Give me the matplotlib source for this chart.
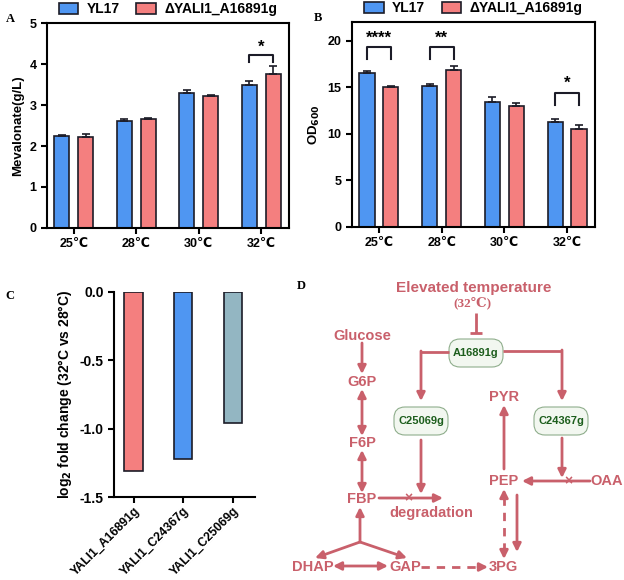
import matplotlib.pyplot as plt
from matplotlib.patches import FancyBboxPatch
import numpy as np

# ---- data ----
temps = ['25℃', '28℃', '30℃', '32℃']
strains = ['YL17', 'ΔYALI1_A16891g']
mva_yl17 = [2.25, 2.62, 3.30, 3.50]
mva_yl17_err = [0.03, 0.04, 0.06, 0.10]
mva_del = [2.22, 2.65, 3.22, 3.77]
mva_del_err = [0.08, 0.04, 0.03, 0.18]
od_yl17 = [16.55, 15.10, 13.45, 11.25]
od_yl17_err = [0.15, 0.25, 0.50, 0.35]
od_del = [15.05, 16.85, 13.00, 10.55]
od_del_err = [0.10, 0.40, 0.25, 0.35]
genes = ['YALI1_A16891g', 'YALI1_C24367g', 'YALI1_C25069g']
log2fc = [-1.31, -1.22, -0.96]

# significance marks: group index, label, bracket base height
sig_A = [(3, '*', 4.05)]
sig_B = [(0, '****', 18.0), (1, '**', 18.0), (3, '*', 13.1)]

BLUE = '#4f96f2'
RED = '#f47f7f'
TEAL = '#93b6c2'
EDGE = '#1c1c28'
PINK = '#c9606b'
FONT = ['Liberation Sans', 'DejaVu Sans']

plt.rcParams['font.family'] = FONT
plt.rcParams['font.weight'] = 'bold'
plt.rcParams['axes.linewidth'] = 1.5
plt.rcParams['xtick.major.width'] = 1.5
plt.rcParams['ytick.major.width'] = 1.5
plt.rcParams['xtick.major.size'] = 4
plt.rcParams['ytick.major.size'] = 4

fig = plt.figure(figsize=(6.24, 5.8), dpi=100)


def grouped(ax, a, a_err, b, b_err, sig, ylim, yticks, ylabel, bh, soff):
    x = np.arange(len(temps))
    w = 0.24
    ax.bar(x - 0.19, a, w, color=BLUE, edgecolor=EDGE, lw=1.2, label=strains[0],
           yerr=[np.zeros(len(a)), a_err], capsize=3,
           error_kw=dict(ecolor=EDGE, elinewidth=1.2, capthick=1.2))
    ax.bar(x + 0.19, b, w, color=RED, edgecolor=EDGE, lw=1.2, label=strains[1],
           yerr=[np.zeros(len(b)), b_err], capsize=3,
           error_kw=dict(ecolor=EDGE, elinewidth=1.2, capthick=1.2))
    for i, s, y in sig:
        ax.plot([i - 0.19, i - 0.19, i + 0.19, i + 0.19], [y, y + bh, y + bh, y],
                color=EDGE, lw=1.5)
        ax.text(i, y + bh + soff, s, ha='center', va='bottom', fontsize=12,
                fontweight='bold')
    ax.set_xlim(-0.43, 3.44)
    ax.set_ylim(*ylim)
    ax.set_yticks(yticks)
    ax.set_xticks(x)
    ax.set_xticklabels(temps, fontsize=9)
    ax.tick_params(axis='y', labelsize=9)
    ax.set_ylabel(ylabel, fontsize=9.5, fontweight='bold')
    ax.legend(loc='lower center', bbox_to_anchor=(0.5, 1.0), ncol=2, frameon=False,
              prop=dict(size=10, weight='bold'), handlelength=1.4, handleheight=0.8,
              columnspacing=1.2, handletextpad=0.6, borderaxespad=0.1)


axA = fig.add_axes([0.075, 0.607, 0.388, 0.353])
grouped(axA, mva_yl17, mva_yl17_err, mva_del, mva_del_err, sig_A, (0, 5),
        range(0, 6), 'Mevalonate(g/L)', 0.17, 0.0)

axB = fig.add_axes([0.564, 0.609, 0.389, 0.353])
grouped(axB, od_yl17, od_yl17_err, od_del, od_del_err, sig_B, (0, 22),
        range(0, 21, 5), r'OD$_{\mathbf{600}}$', 1.3, 0.2)

# ---- panel C ----
axC = fig.add_axes([0.183, 0.143, 0.226, 0.354])
xc = np.arange(len(genes))
axC.bar(xc, log2fc, 0.37, color=[RED, BLUE, TEAL], edgecolor=EDGE, lw=1.2)
axC.set_xlim(-0.39, 2.45)
axC.set_ylim(-1.5, 0)
axC.set_yticks([0.0, -0.5, -1.0, -1.5])
axC.set_yticklabels(['0.0', '-0.5', '-1.0', '-1.5'], fontsize=10)
axC.set_xticks(xc)
axC.set_xticklabels(genes, rotation=45, ha='right', rotation_mode='anchor', fontsize=8.8)
axC.tick_params(axis='x', pad=2)
axC.spines['top'].set_visible(False)
axC.spines['right'].set_visible(False)
axC.set_ylabel(r'log$_\mathbf{2}$ fold change (32°C vs 28°C)', fontsize=10, fontweight='bold')

# ---- panel D: pathway diagram (pixel coordinates) ----
axD = fig.add_axes([290 / 624, 0, 334 / 624, 305 / 580])
axD.set_xlim(290, 624)
axD.set_ylim(580, 275)
axD.axis('off')


def arrow(p0, p1, style='-|>'):
    axD.annotate('', xy=p1, xytext=p0,
                 arrowprops=dict(arrowstyle=style, color=PINK, lw=2,
                                 shrinkA=0, shrinkB=0, mutation_scale=12))


def seg(xs, ys, ls='-'):
    axD.plot(xs, ys, color=PINK, lw=2, ls=ls, solid_capstyle='butt', dashes=(3, 2.5) if ls == '--' else (None, None))


def dashed_arrow(p0, p1, both=False):
    # dashed shaft with solid heads
    d = np.subtract(p1, p0) / np.hypot(*np.subtract(p1, p0))
    a = np.add(p0, d * 8) if both else p0
    b = np.subtract(p1, d * 8)
    seg([a[0], b[0]], [a[1], b[1]], ls='--')
    arrow(tuple(np.subtract(p1, d * 10)), p1)
    if both:
        arrow(tuple(np.add(p0, d * 10)), p0)


def node(x, y, s):
    axD.text(x, y, s, color=PINK, fontsize=10.5, fontweight='bold', ha='center', va='center')


def box(x, y, s):
    axD.add_patch(FancyBboxPatch((x - 27, y - 14), 54, 28,
                                 boxstyle='round,pad=0,rounding_size=11',
                                 fc='#f2f7f0', ec='#8fae8c', lw=0.8))
    axD.text(x, y, s, color='#1d5e1d', fontsize=8, fontweight='bold',
             ha='center', va='center')


def cross(x, y):
    axD.text(x, y, '×', color=PINK, fontsize=10, fontweight='bold', ha='center', va='center')


axD.text(474, 288, 'Elevated temperature', color=PINK, fontsize=11, fontweight='bold',
         ha='center', va='center')
axD.text(472, 303, '(32℃)', color=PINK, fontsize=9.5, fontweight='bold', ha='center',
         va='center', family=['Liberation Serif', 'DejaVu Serif'])
seg([476, 476], [313, 333])
seg([470, 482], [333, 333])

box(476, 353, 'A16891g')
box(421, 421, 'C25069g')
box(561, 421, 'C24367g')

seg([449, 421], [352, 352])
arrow((421, 351), (421, 401))
seg([503, 562], [351, 351])
arrow((562, 350), (562, 401))

node(362, 336, 'Glucose')
node(362, 382, 'G6P')
node(362, 443, 'F6P')
node(362, 499, 'FBP')
node(313, 567, 'DHAP')
node(405, 567, 'GAP')
node(503, 567, '3PG')
node(504, 397, 'PYR')
node(504, 481, 'PEP')
node(607, 481, 'OAA')
node(431, 513, 'degradation')

arrow((362, 343), (362, 374))
arrow((362, 436), (362, 389), style='<|-|>')
arrow((362, 493), (362, 450), style='<|-|>')
arrow((360, 542), (360, 507))
arrow((360, 542), (315, 558))
arrow((360, 542), (407, 558))
arrow((333, 566), (388, 566), style='<|-|>')
dashed_arrow((421, 567), (488, 567))
arrow((379, 498), (443, 498))
cross(408, 498)
arrow((421, 440), (421, 494))
arrow((504, 469), (504, 405))
arrow((590, 481), (522, 481))
cross(568, 481)
arrow((562, 438), (562, 478))
dashed_arrow((504, 489), (504, 559), both=True)
arrow((517, 495), (517, 552))

# panel letters
for x, y, s in [(6, 19, 'A'), (314, 18, 'B'), (5, 296, 'C'), (297, 286, 'D')]:
    fig.text(x / 624, 1 - y / 580, s, fontsize=9, fontweight='bold', ha='left',
             va='center', family=['Liberation Serif', 'DejaVu Serif'])

fig.savefig('out.png', dpi=100)
